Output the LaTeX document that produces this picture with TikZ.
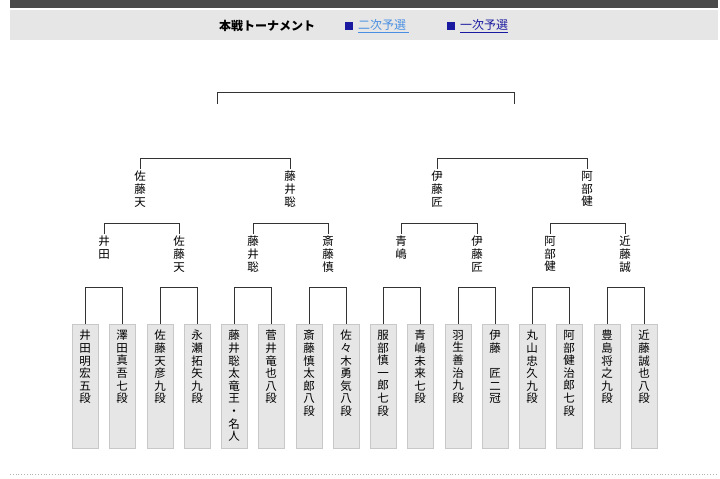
\documentclass[tikz,border=0pt]{standalone}
\usepackage{fontspec}
\setmainfont{Noto Sans CJK JP}
\usetikzlibrary{positioning}
\definecolor{barc}{HTML}{4A4A4A}
\definecolor{headc}{HTML}{E6E6E6}
\definecolor{boxc}{HTML}{E6E6E6}
\definecolor{boxd}{HTML}{C8C8C8}
\definecolor{linkb}{HTML}{4A90E2}
\definecolor{linkd}{HTML}{1A1AA0}
\tikzset{
  player/.style={draw=boxd, fill=boxc, minimum width=26pt, minimum height=124pt, anchor=north, inner sep=0pt},
  pname/.style={anchor=north, align=center, font=\fontsize{11.5}{12.6}\selectfont, inner sep=0pt,
    execute at begin node={\lineskiplimit=-20pt\lineskip=0pt}},
  winner/.style={pname},
  bracket/.style={draw=black!80, line width=0.8pt}
}
\begin{document}
\begin{tikzpicture}[x=1pt,y=-1pt]
  \useasboundingbox (0,0) rectangle (720,479);
  % Header
  \fill[barc] (10,0) rectangle (718,8);
  \fill[headc] (10,10) rectangle (718,40);
  \node[font=\bfseries\fontsize{12}{14}\selectfont] (title) at (267,26) {本戦トーナメント};
  \fill[linkd] (345,22) rectangle (353,30);
  \node[anchor=west, text=linkb, font=\fontsize{12}{14}\selectfont, inner sep=0pt] (link2) at (358,26) {\underline{二次予選\ }};
  \fill[linkd] (447,22) rectangle (455,30);
  \node[anchor=west, text=linkd, font=\fontsize{12}{14}\selectfont, inner sep=0pt] (link1) at (460,26) {\underline{一次予選}};

  % Players
  \foreach \i/\x/\n in {1/85/{井\\田\\明\\宏\\五\\段}, 2/122/{澤\\田\\真\\吾\\七\\段},
      3/160/{佐\\藤\\天\\彦\\九\\段}, 4/197/{永\\瀬\\拓\\矢\\九\\段},
      5/234/{藤\\井\\聡\\太\\竜\\王\\・\\名\\人}, 6/271/{菅\\井\\竜\\也\\八\\段},
      7/309/{斎\\藤\\慎\\太\\郎\\八\\段}, 8/346/{佐\\々\\木\\勇\\気\\八\\段},
      9/383/{服\\部\\慎\\一\\郎\\七\\段}, 10/420/{青\\嶋\\未\\来\\七\\段},
      11/458/{羽\\生\\善\\治\\九\\段}, 12/495/{伊\\藤\\　\\匠\\二\\冠},
      13/532/{丸\\山\\忠\\久\\九\\段}, 14/569/{阿\\部\\健\\治\\郎\\七\\段},
      15/607/{豊\\島\\将\\之\\九\\段}, 16/644/{近\\藤\\誠\\也\\八\\段}} {
    \node[player] (p\i) at (\x,324) {};
    \node[pname] at ([yshift=-6pt]p\i.north) {\n};
  }

  % Round 1
  \foreach \a/\b in {1/2,3/4,5/6,7/8,9/10,11/12,13/14,15/16}
    \draw[bracket] (p\a.north) -- ++(0,-37) -| (p\b.north);

  % Quarter finals
  \foreach \i/\x/\n in {1/104/{井\\田}, 2/179/{佐\\藤\\天}, 3/253/{藤\\井\\聡}, 4/328/{斎\\藤\\慎},
      5/401/{青\\嶋}, 6/477/{伊\\藤\\匠}, 7/550/{阿\\部\\健}, 8/625/{近\\藤\\誠}}
    \node[winner] (q\i) at (\x,236) {\n};
  \foreach \a/\b in {1/2,3/4,5/6,7/8}
    \draw[bracket] ([yshift=2pt]q\a.north) -- ++(0,-11) -| ([yshift=2pt]q\b.north);

  % Semi finals
  \foreach \i/\x/\n in {1/140/{佐\\藤\\天}, 2/290/{藤\\井\\聡}, 3/437/{伊\\藤\\匠}, 4/587/{阿\\部\\健}}
    \node[winner] (s\i) at (\x,171) {\n};
  \foreach \a/\b in {1/2,3/4}
    \draw[bracket] ([yshift=2pt]s\a.north) -- ++(0,-11) -| ([yshift=2pt]s\b.north);

  % Final
  \coordinate (f1) at (217,104);
  \coordinate (f2) at (514,104);
  \draw[bracket] (f1) -- ++(0,-12) -| (f2);

  % Footer
  \draw[black!30, dotted, line width=0.8pt] (10,474) -- (718,474);
\end{tikzpicture}
\end{document}
